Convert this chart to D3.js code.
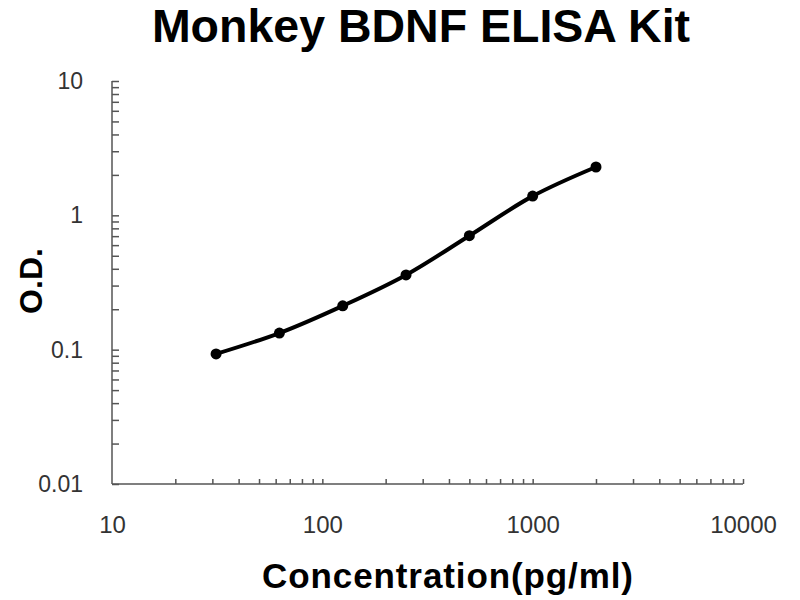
<!DOCTYPE html>
<html>
<head>
<meta charset="utf-8">
<script src="https://cdn.jsdelivr.net/npm/d3@7"></script>
<style>
  html, body { margin: 0; padding: 0; background: #fff; }
  svg { display: block; }
</style>
</head>
<body>
<svg id="chart" width="800" height="600"></svg>
<script>
const titleText = "Monkey BDNF ELISA Kit";
const xLabelText = "Concentration(pg/ml)";
const yLabelText = "O.D.";
const concentrations = [31.25, 62.5, 125, 250, 500, 1000, 2000];
const odValues = [0.093, 0.133, 0.212, 0.36, 0.705, 1.39, 2.29];
const xTickLabels = [10, 100, 1000, 10000];
const yTickLabels = [0.01, 0.1, 1, 10];

const svg = d3.select("#chart");
const x = d3.scaleLog().domain([10, 10000]).range([112, 743]);
const y = d3.scaleLog().domain([0.01, 10]).range([484, 81]);

function minorTicks(lo, hi) {
  const out = [];
  for (let d = lo; d < hi; d *= 10) {
    for (let k = 1; k <= 9; k++) out.push(d * k);
  }
  out.push(hi);
  return out;
}

const axisColor = "#555";
const fontFam = "Liberation Sans, Arial, sans-serif";

// Y axis line + inside ticks
const yTicksG = svg.append("g").attr("transform", `translate(${x(10)},0)`)
  .call(d3.axisRight(y).tickValues(minorTicks(0.01, 10)).tickSize(7).tickFormat(""));
yTicksG.selectAll("path, line").attr("stroke", axisColor).attr("stroke-width", 1.5);
yTicksG.select(".domain").attr("d", `M0,${y(10)}V${y(0.01)}`);

// Y labels
const yLabG = svg.append("g").attr("transform", `translate(${x(10)},0)`)
  .call(d3.axisLeft(y).tickValues(yTickLabels).tickSize(0).tickPadding(29)
    .tickFormat(d => String(d)));
yLabG.select(".domain").remove();
yLabG.selectAll("text").attr("font-family", fontFam)
  .attr("font-size", 23).attr("fill", "#333");

// X axis line + inside ticks
const xTicksG = svg.append("g").attr("transform", `translate(0,${y(0.01)})`)
  .call(d3.axisTop(x).tickValues(minorTicks(10, 10000).filter(v => v !== 10)).tickSize(5).tickFormat(""));
xTicksG.selectAll("path, line").attr("stroke", axisColor).attr("stroke-width", 1.5);
xTicksG.select(".domain").attr("d", `M${x(10)},0H${x(10000)}`);

// X labels
const xLabG = svg.append("g").attr("transform", `translate(0,${y(0.01)})`)
  .call(d3.axisBottom(x).tickValues(xTickLabels).tickSize(0).tickPadding(32)
    .tickFormat(d => String(d)));
xLabG.select(".domain").remove();
xLabG.selectAll("text").attr("font-family", fontFam)
  .attr("font-size", 24).attr("fill", "#333");

// Curve
const pts = concentrations.map((c, i) => [c, odValues[i]]);
const line = d3.line().x(d => x(d[0])).y(d => y(d[1])).curve(d3.curveCatmullRom.alpha(0.5));
svg.append("path").datum(pts).attr("d", line)
  .attr("fill", "none").attr("stroke", "#000").attr("stroke-width", 4)
  .attr("stroke-linecap", "round");

svg.append("g").selectAll("circle").data(pts).join("circle")
  .attr("cx", d => x(d[0])).attr("cy", d => y(d[1])).attr("r", 5.5).attr("fill", "#000");

// Title
svg.append("text").attr("x", 421).attr("y", 42).attr("text-anchor", "middle")
  .attr("font-family", fontFam).attr("font-weight", "bold")
  .attr("font-size", 46.5).attr("fill", "#000").text(titleText);

// X label
svg.append("text").attr("x", 448).attr("y", 588).attr("text-anchor", "middle")
  .attr("font-family", fontFam).attr("font-weight", "bold")
  .attr("font-size", 35).attr("letter-spacing", 0.9).attr("fill", "#000").text(xLabelText);

// Y label
svg.append("text").attr("transform", "translate(42,281) rotate(-90)").attr("text-anchor", "middle")
  .attr("font-family", fontFam).attr("font-weight", "bold")
  .attr("font-size", 32).attr("fill", "#000").text(yLabelText);
</script>
</body>
</html>
